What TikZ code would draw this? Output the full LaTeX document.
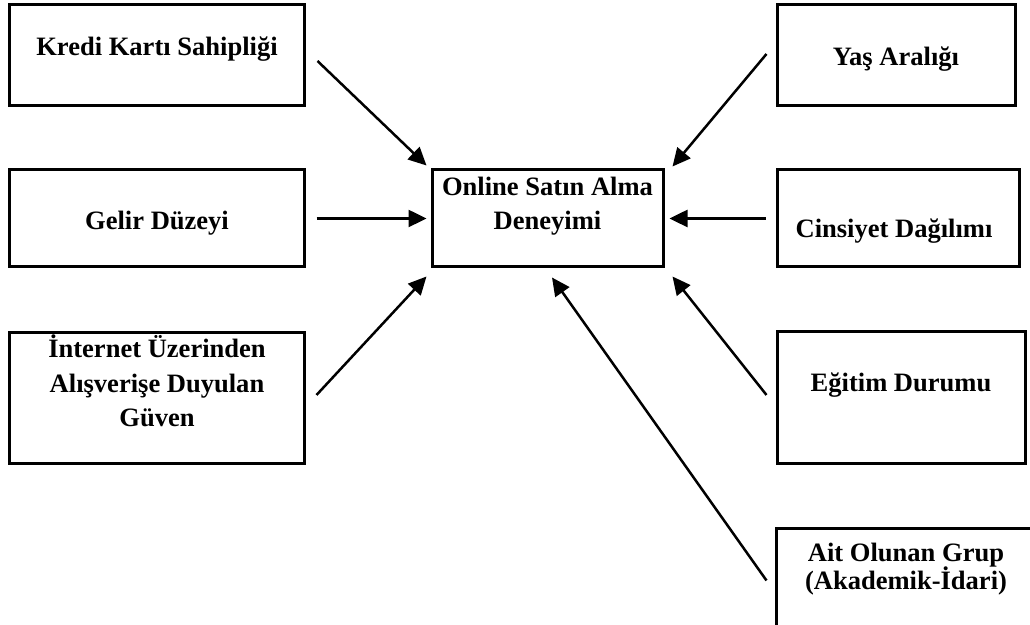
\documentclass[tikz,border=0pt]{standalone}
\usepackage{fontspec}
\setmainfont{Liberation Serif}
\usetikzlibrary{arrows.meta}

\tikzset{
	box/.style={draw, line width=0.6mm, inner sep=0pt},
	lbl/.style={font=\bfseries\fontsize{15.1}{19.8}\selectfont, align=center, anchor=base, inner sep=0pt},
	arr/.style={line width=0.5mm, -{Triangle[length=3.6mm,width=3.4mm]}}
}

\begin{document}
\begin{tikzpicture}
		%%%%% START %%%%%
		\useasboundingbox (0, 0) rectangle (20.6, 12.5);
		\clip (0, 0) rectangle (20.6, 12.5);
		
		% left column
		\node[box, minimum width=5.88cm, minimum height=2.02cm] (kredi) at (3.14, 11.39) {};
		\node[lbl] (kredi-t) at ([yshift=-0.01cm]kredi.center) {Kredi Kartı Sahipliği};
		
		\node[box, minimum width=5.88cm, minimum height=1.94cm] (gelir) at (3.14, 8.13) {};
		\node[lbl] (gelir-t) at ([yshift=-0.23cm]gelir.center) {Gelir Düzeyi};
		
		\node[box, minimum width=5.88cm, minimum height=2.62cm] (guven) at (3.14, 4.53) {};
		\node[lbl] (guven-t) at ([yshift=-0.57cm]guven.center) {İnternet Üzerinden\\Alışverişe Duyulan\\Güven};
		
		% centre
		\node[box, minimum width=4.62cm, minimum height=1.94cm] (online) at (10.95, 8.13) {};
		\node[lbl] (online-t) at ([yshift=-0.23cm]online.center) {Online Satın Alma\\Deneyimi};
		
		% right column
		\node[box, minimum width=4.76cm, minimum height=2.02cm] (yas) at (17.92, 11.39) {};
		\node[lbl] (yas-t) at ([yshift=-0.21cm]yas.center) {Yaş Aralığı};
		
		\node[box, minimum width=4.84cm, minimum height=1.94cm] (cinsiyet) at (17.96, 8.13) {};
		\node[lbl] (cinsiyet-t) at ([xshift=-0.08cm, yshift=-0.39cm]cinsiyet.center) {Cinsiyet Dağılımı};
		
		\node[box, minimum width=4.96cm, minimum height=2.64cm] (egitim) at (18.02, 4.54) {};
		\node[lbl] (egitim-t) at ([yshift=0.12cm]egitim.center) {Eğitim Durumu};
		
		\node[box, minimum width=5.2cm, minimum height=2.42cm] (grup) at (18.12, 0.71) {};
		\node[lbl, font=\bfseries\fontsize{15.1}{16.4}\selectfont] (grup-t) at ([yshift=-0.01cm]grup.center) {Ait Olunan Grup\\(Akademik-İdari)};
		
		% arrows
		\draw[arr] ([shift={(0.24,-0.11)}]kredi.east) -- ([shift={(-0.08,0.06)}]online.north west);
		\draw[arr] ([shift={(0.22,0)}]gelir.east) -- ([shift={(-0.08,0)}]online.west);
		\draw[arr] ([shift={(0.22,0.07)}]guven.east) -- ([shift={(-0.08,-0.16)}]online.south west);
		\draw[arr] ([shift={(-0.18,0.03)}]yas.west) -- ([shift={(0.16,0.04)}]online.north east);
		\draw[arr] ([shift={(-0.2,0)}]cinsiyet.west) -- ([shift={(0.1,0)}]online.east);
		\draw[arr] ([shift={(-0.18,0.06)}]egitim.west) -- ([shift={(0.16,-0.16)}]online.south east);
		\draw[arr] ([shift={(-0.16,-1.06)}]grup.north west) -- ([shift={(0.09,-0.18)}]online.south);
		
		%%%%% END %%%%%
	\end{tikzpicture}
\end{document}
